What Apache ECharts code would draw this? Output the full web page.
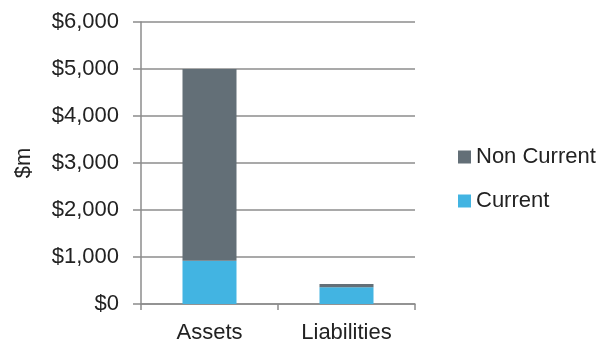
<!DOCTYPE html>
<html>
<head>
<meta charset="utf-8">
<style>
  html, body { margin: 0; padding: 0; background: #fff; }
  #chart { width: 614px; height: 345px; }
</style>
<script src="https://cdn.jsdelivr.net/npm/echarts@6/dist/echarts.min.js"></script>
</head>
<body>
<div id="chart"></div>
<script>
// Balance sheet split, $ millions
const categories = ['Assets', 'Liabilities'];
const currentValues = [920, 355];
const nonCurrentValues = [4080, 70];
const yTicks = [0, 1000, 2000, 3000, 4000, 5000, 6000];

const FONT = '"Liberation Sans", Arial, sans-serif';
const GRID_GREY = '#8c8c8c';
const TEXT = '#222';

const chart = echarts.init(document.getElementById('chart'), null, { renderer: 'canvas' });

chart.setOption({
  animation: false,
  textStyle: { fontFamily: FONT },
  grid: { left: 141, right: 199, top: 22, bottom: 41, containLabel: false },
  legend: {
    orient: 'vertical',
    left: 453,
    top: 141,
    itemWidth: 13,
    itemHeight: 13,
    itemGap: 22,
    icon: 'rect',
    textStyle: { fontSize: 22, color: TEXT, fontFamily: FONT },
    data: ['Non Current', 'Current']
  },
  xAxis: {
    type: 'category',
    data: categories,
    axisLine: { lineStyle: { color: GRID_GREY, width: 1.5 } },
    axisTick: { show: true, length: 6, lineStyle: { color: GRID_GREY, width: 1.5 } },
    axisLabel: { fontSize: 22, color: TEXT, margin: 18, fontFamily: FONT },
    splitLine: { show: false }
  },
  yAxis: {
    type: 'value',
    min: yTicks[0],
    max: yTicks[yTicks.length - 1],
    interval: 1000,
    name: '$m',
    nameLocation: 'middle',
    nameGap: 106,
    nameRotate: 90,
    nameTextStyle: { fontSize: 22, color: TEXT, fontFamily: FONT },
    axisLine: { show: true, lineStyle: { color: GRID_GREY, width: 1.5 } },
    axisTick: { show: true, length: 8, lineStyle: { color: GRID_GREY, width: 1.5 } },
    axisLabel: {
      fontSize: 22,
      color: TEXT,
      margin: 22,
      fontFamily: FONT,
      formatter: v => '$' + v.toLocaleString('en-US')
    },
    splitLine: { show: true, lineStyle: { color: GRID_GREY, width: 1.5 } }
  },
  series: [
    {
      name: 'Current',
      type: 'bar',
      stack: 'total',
      barWidth: 54,
      data: currentValues,
      itemStyle: { color: '#42b4e2' }
    },
    {
      name: 'Non Current',
      type: 'bar',
      stack: 'total',
      barWidth: 54,
      data: nonCurrentValues,
      itemStyle: { color: '#636f77' }
    }
  ]
});
</script>
</body>
</html>
